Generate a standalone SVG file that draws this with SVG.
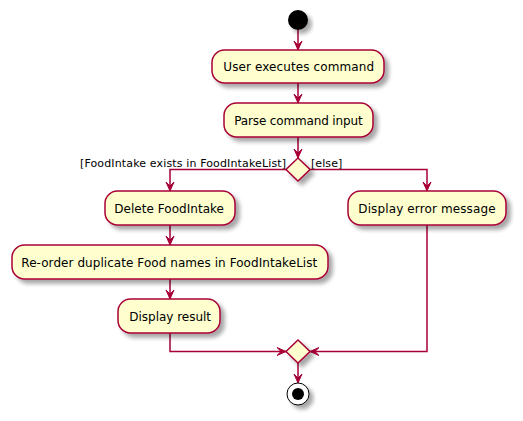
<svg xmlns="http://www.w3.org/2000/svg" width="523" height="421" viewBox="0 0 523 421">
<style>
.box{fill:#FEFECE;stroke:#A80036;stroke-width:1.5;filter:url(#sh)}
.t{font-family:"DejaVu Sans",sans-serif;font-size:12px;fill:#000}
.lbl{font-family:"DejaVu Sans",sans-serif;font-size:11px;fill:#000}
.ln{fill:none;stroke:#A80036;stroke-width:1.5}
</style>
<defs>
<filter id="sh" x="-20%" y="-20%" width="150%" height="160%">
<feGaussianBlur in="SourceAlpha" stdDeviation="2"/>
<feOffset dx="4" dy="4" result="b"/>
<feComponentTransfer><feFuncA type="linear" slope="0.35"/></feComponentTransfer>
<feMerge><feMergeNode/><feMergeNode in="SourceGraphic"/></feMerge>
</filter>
<marker id="ar" viewBox="0 0 10 10" refX="9" refY="5" markerWidth="10" markerHeight="10" markerUnits="userSpaceOnUse" orient="auto">
<path d="M0,1 L9,5 L0,9 L4,5 Z" fill="#A80036" stroke="#A80036" stroke-width="1"/>
</marker>
</defs>
<g id="connectors">
<path class="ln" d="M298,30 L298,50" marker-end="url(#ar)"/>
<path class="ln" d="M298,83 L298,103" marker-end="url(#ar)"/>
<path class="ln" d="M298,137 L298,158" marker-end="url(#ar)"/>
<path class="ln" d="M286,169.5 L170,169.5 L170,191" marker-end="url(#ar)"/>
<path class="ln" d="M310,169.5 L427,169.5 L427,191" marker-end="url(#ar)"/>
<path class="ln" d="M170,225 L170,245" marker-end="url(#ar)"/>
<path class="ln" d="M170,279 L170,299" marker-end="url(#ar)"/>
<path class="ln" d="M170,333 L170,351.5 L286,351.5" marker-end="url(#ar)"/>
<path class="ln" d="M427,225 L427,351.5 L310,351.5" marker-end="url(#ar)"/>
<path class="ln" d="M298,363 L298,383" marker-end="url(#ar)"/>
<text class="lbl" x="80" y="166.5" textLength="206" lengthAdjust="spacing">[FoodIntake exists in FoodIntakeList]</text>
<text class="lbl" x="311" y="166.5" textLength="31.3" lengthAdjust="spacing">[else]</text>
</g>
<g id="start"><circle cx="298" cy="20" r="10" fill="#000" filter="url(#sh)"/></g>
<g id="n1"><rect class="box" x="212" y="50" width="172" height="33" rx="12.5"/><text class="t" x="223.3" y="71" textLength="150.7" lengthAdjust="spacing">User executes command</text></g>
<g id="n2"><rect class="box" x="224" y="103" width="149" height="34" rx="12.5"/><text class="t" x="234.3" y="124.5" textLength="128.3" lengthAdjust="spacing">Parse command input</text></g>
<g id="d1"><polygon class="box" points="298,158 310,169.5 298,181 286,169.5"/></g>
<g id="n3"><rect class="box" x="105" y="191" width="130" height="34" rx="12.5"/><text class="t" x="114.3" y="212.5" textLength="109.7" lengthAdjust="spacing">Delete FoodIntake</text></g>
<g id="n4"><rect class="box" x="348" y="191" width="158" height="34" rx="12.5"/><text class="t" x="358.3" y="212.5" textLength="137.3" lengthAdjust="spacing">Display error message</text></g>
<g id="n5"><rect class="box" x="12" y="245" width="316" height="34" rx="12.5"/><text class="t" x="21.3" y="266.5" textLength="296" lengthAdjust="spacing">Re-order duplicate Food names in FoodIntakeList</text></g>
<g id="n6"><rect class="box" x="118" y="299" width="102" height="34" rx="12.5"/><text class="t" x="129.3" y="320.5" textLength="81.7" lengthAdjust="spacing">Display result</text></g>
<g id="d2"><polygon class="box" points="298,340 310,351.5 298,363 286,351.5"/></g>
<g id="end"><circle cx="298" cy="394" r="11" fill="#fff" stroke="#000" stroke-width="1" filter="url(#sh)"/><circle cx="298" cy="394" r="6" fill="#000"/></g>
</svg>
